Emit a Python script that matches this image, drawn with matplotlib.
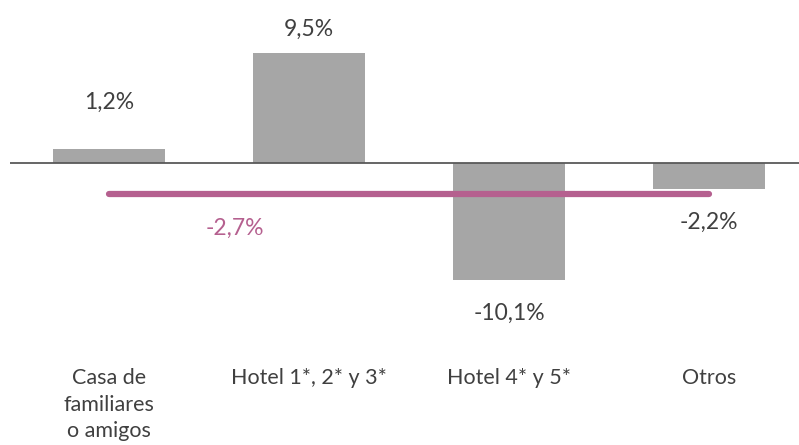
import matplotlib
matplotlib.use("Agg")
import matplotlib.pyplot as plt

categories = ["Casa de\nfamiliares\no amigos", "Hotel 1*, 2* y 3*", "Hotel 4* y 5*", "Otros"]
values = [1.2, 9.5, -10.1, -2.2]
value_labels = ["1,2%", "9,5%", "-10,1%", "-2,2%"]
average = -2.7
average_label = "-2,7%"

BAR_COLOR = "#a6a6a6"
AVG_COLOR = "#b5608f"
TEXT_COLOR = "#404040"
FONT = ["Lato", "DejaVu Sans"]

fig = plt.figure(figsize=(7.99, 4.45), dpi=100)
ax = fig.add_axes([10 / 799, 0, 789 / 799, 1])

x = list(range(len(categories)))
ax.bar(x, values, width=0.56, color=BAR_COLOR, zorder=2)
ax.axhline(0, color="#595959", lw=1.3, zorder=3)

ax.set_xlim(-0.495, 3.45)
ax.set_ylim(-24.3, 14.05)
ax.axis("off")

# average line spanning the categories
ax.plot([x[0], x[-1]], [average, average], color=AVG_COLOR, lw=4.5,
        solid_capstyle="round", zorder=4)
ax.text(0.63, average - 2.9, average_label, color=AVG_COLOR, fontsize=16.5,
        fontfamily=FONT, ha="center", va="center")

# value labels: pixel offsets from the bar end
offsets = [47, 23, -33, -34]
for xi, v, lab, off in zip(x, values, value_labels, offsets):
    ax.annotate(lab, (xi, v), xytext=(0, off * 0.72), textcoords="offset points",
                ha="center", va="center", fontsize=16.5, fontfamily=FONT,
                color=TEXT_COLOR)

# category labels below the chart
for xi, cat in zip(x, categories):
    ax.text(xi, -17.7, cat, ha="center", va="top", fontsize=15.5,
            fontfamily=FONT, color=TEXT_COLOR,
            linespacing=1.4, transform=ax.transData)

fig.savefig("out.png", dpi=100)
